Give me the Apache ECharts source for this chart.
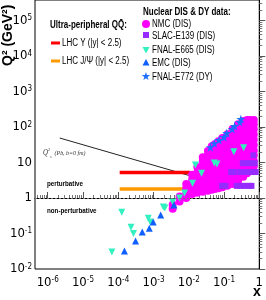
<!DOCTYPE html>
<html><head><meta charset="utf-8">
<script src="https://cdn.jsdelivr.net/npm/echarts@6/dist/echarts.min.js"></script>
<style>html,body{margin:0;padding:0;background:#fff}#c{width:266px;height:300px}</style>
</head><body><div id="c"></div>
<script>
// ---------- data (x, Q^2 in GeV^2) ----------
const xTickLog = [-6, -5, -4, -3, -2, -1, 0];
const yTickLog = [-2, -1, 0, 1, 2, 3, 4, 5];

const nmcX = [0.0035, 0.0055, 0.0085, 0.0125, 0.0175, 0.025, 0.035, 0.045, 0.055, 0.07, 0.09, 0.125, 0.175, 0.25, 0.35, 0.45, 0.55, 0.7];
const nmcQ2 = [
  [0.5, 0.65],
  [0.8, 1.1],
  [1.0, 1.4, 1.9, 2.5],
  [1.3, 1.8, 2.5, 3.4, 4.5],
  [1.4, 2.0, 2.8, 3.8, 5.2, 7.5],
  [1.5, 2.1, 3.0, 4.2, 5.8, 8.0, 11, 14],
  [1.6, 2.2, 3.1, 4.4, 6.1, 8.5, 12, 16, 21],
  [1.7, 2.4, 3.4, 4.8, 6.7, 9.4, 13, 18, 25, 29],
  [1.8, 2.6, 3.6, 5.0, 7.1, 10, 14, 19, 26, 33],
  [1.9, 2.7, 3.8, 5.3, 7.5, 10.5, 15, 21, 29, 40],
  [2.0, 2.8, 4.0, 5.6, 7.9, 11, 15.5, 22, 31, 40, 49],
  [2.2, 3.0, 4.2, 6.0, 8.5, 12, 17, 24, 33, 45, 63],
  [2.5, 3.5, 5, 7, 10, 14, 20, 28, 39, 55, 75, 88],
  [3, 4.2, 6, 8.5, 12, 17, 24, 34, 48, 67, 95, 120],
  [4, 5.6, 8, 11, 16, 22, 31, 44, 62, 87, 120, 148],
  [5, 7, 10, 14, 20, 28, 40, 56, 78, 110, 158],
  [6, 8.5, 12, 17, 24, 34, 48, 67, 95, 130, 158],
  [8, 11, 16, 22, 31, 44, 62, 87, 120, 158]
];

const slacX  = [0.34, 0.44, 0.57, 0.74, 0.68, 0.16, 0.19, 0.29, 0.38, 0.5, 0.64, 0.79, 0.088, 0.11, 0.23, 0.29, 0.38, 0.5, 0.6];
const slacQ2 = [9.6, 9.6, 9.6, 9.6, 16, 5.4, 5.4, 5.4, 5.4, 5.4, 5.4, 5.4, 2.2, 2.2, 2.2, 2.2, 2.2, 2.2, 2.2];

const e665X  = [6.6e-5, 1.26e-4, 2.3e-4, 2.7e-4, 7.1e-4, 8.1e-4, 1.9e-3, 2.1e-3, 3.5e-3, 5.5e-3, 7.6e-3, 0.0128, 0.0155, 0.023, 0.053, 0.063, 0.19, 0.36];
const e665Q2 = [0.030, 0.40, 0.15, 0.10, 0.27, 0.21, 0.56, 0.52, 0.77, 1.0, 1.38, 2.6, 8.5, 5.0, 9.7, 9.1, 20, 26];

const emcX  = [1.5e-4, 3.1e-4, 4.8e-4, 7.6e-4, 9.8e-4, 1.6e-3, 3.8e-3];
const emcQ2 = [0.032, 0.062, 0.11, 0.14, 0.21, 0.33, 0.64];

const e772X  = [0.041, 0.053, 0.072, 0.100, 0.12, 0.17, 0.20, 0.28, 0.30];
const e772Q2 = [27, 35, 43, 52, 68, 88, 107, 138, 168];

const upsX = [1.1e-4, 1.1e-2], upsQ2 = [5.2, 5.2];
const jpsiX = [1.1e-4, 1.1e-2], jpsiQ2 = [1.8, 1.8];
const qsX = [2.2e-6, 1.12e-2], qsQ2 = [49, 4.2];

// ---------- build ----------
const L = Math.log10;
const pts = (xs, qs) => xs.map((v, i) => [L(v), L(qs[i])]);
const nmcPts = [];
nmcX.forEach((x, i) => nmcQ2[i].forEach(q => nmcPts.push([L(x), L(q)])));

const XMIN = -6.36, XMAX = 0.0, YMIN = -2, YMAX = 5.58;
const minorOf = (lo, hi) => { const a = []; for (let k = Math.floor(lo) - 1; k <= Math.ceil(hi); k++) for (let d = 2; d <= 9; d++) { const v = k + L(d); if (v > lo && v < hi) a.push(v); } return a; };

const F = '"Liberation Sans Narrow","DejaVu Sans Condensed","Liberation Sans",Arial,sans-serif';
const fmt = v => { v = Math.round(v); if (v === 0) return '{b|1}'; if (v === 1) return '{b|10}'; return '{b|10}{s|' + v + '}'; };
const rich = { b: { fontSize: 13, fontFamily: F, color: '#000' }, s: { fontSize: 8, fontFamily: F, color: '#000', verticalAlign: 'top', lineHeight: 8 } };

const starPath = 'path://M50,0 L61,35 L98,35 L68,57 L79,91 L50,70 L21,91 L32,57 L2,35 L39,35 Z';
const C = { nmc: '#ff00ff', slac: '#962cff', e665: '#33f0c0', emc: '#0f5fff', e772: '#1f6fff', ups: '#ff0000', jpsi: '#ff9900' };

const txt = (x, y, text, opt) => Object.assign({ type: 'text', x: x, y: y, scaleX: opt.sx || 0.8,
  style: Object.assign({ text: text, fontSize: 10, fontFamily: '"Liberation Sans",Arial,sans-serif', fill: '#000', verticalAlign: 'middle', textAlign: 'left' }, opt.style || {}) });

const chart = echarts.init(document.getElementById('c'), null, { renderer: 'canvas' });
chart.setOption({
  animation: false,
  grid: { left: 35, right: 3, top: 0, bottom: 31, show: true, borderColor: '#000', borderWidth: 1 },
  xAxis: [
    { type: 'value', min: XMIN, max: XMAX, axisLine: { lineStyle: { color: '#000' } }, splitLine: { show: false },
      axisTick: { inside: true, length: 6, customValues: xTickLog, lineStyle: { color: '#555' } },
      axisLabel: { customValues: xTickLog, formatter: fmt, rich: rich, margin: 7 } },
    { type: 'value', min: XMIN, max: XMAX, position: 'bottom', axisLine: { show: false }, splitLine: { show: false },
      axisTick: { inside: true, length: 3, customValues: minorOf(XMIN, XMAX), lineStyle: { color: '#777' } }, axisLabel: { show: false } }
  ],
  yAxis: [
    { type: 'value', min: YMIN, max: YMAX, axisLine: { show: true, lineStyle: { color: '#000' } }, splitLine: { show: false },
      axisTick: { show: true, inside: true, length: 6, customValues: yTickLog, lineStyle: { color: '#555' } },
      axisLabel: { customValues: yTickLog, formatter: fmt, rich: rich, margin: 3 } },
    { type: 'value', min: YMIN, max: YMAX, position: 'left', axisLine: { show: false }, splitLine: { show: false },
      axisTick: { show: true, inside: true, length: 3, customValues: minorOf(YMIN, YMAX), lineStyle: { color: '#777' } }, axisLabel: { show: false } }
  ],
  series: [
    { type: 'line', data: pts(qsX, qsQ2), symbol: 'none', lineStyle: { color: '#222', width: 1 }, z: 1,
      markLine: { silent: true, symbol: 'none', label: { show: false }, data: [{ yAxis: 0 }], lineStyle: { type: [2, 2], color: '#777', width: 1 } } },
    { type: 'line', data: pts(upsX, upsQ2), symbol: 'none', lineStyle: { color: C.ups, width: 3.5 }, z: 1 },
    { type: 'line', data: pts(jpsiX, jpsiQ2), symbol: 'none', lineStyle: { color: C.jpsi, width: 3.5 }, z: 1 },
    { type: 'scatter', data: nmcPts, symbol: 'circle', symbolSize: 8, itemStyle: { color: C.nmc, opacity: 1 }, z: 2 },
    { type: 'scatter', data: pts(slacX, slacQ2), symbol: 'rect', symbolSize: 6, itemStyle: { color: C.slac, opacity: 1 }, z: 3 },
    { type: 'scatter', data: pts(e665X, e665Q2), symbol: 'triangle', symbolRotate: 180, symbolSize: 7, itemStyle: { color: C.e665, opacity: 1 }, z: 4 },
    { type: 'scatter', data: pts(emcX, emcQ2), symbol: 'triangle', symbolSize: 7, itemStyle: { color: C.emc, opacity: 1 }, z: 5 },
    { type: 'scatter', data: pts(e772X, e772Q2), symbol: starPath, symbolSize: 9, itemStyle: { color: C.e772, opacity: 1 }, z: 6 }
  ],
  graphic: [
    { type: 'text', x: 8, y: 66, rotation: Math.PI / 2, style: { text: 'Q² (GeV²)', fontSize: 14, fontWeight: 'bold', fontFamily: '"Liberation Sans",Arial,sans-serif', fill: '#000', verticalAlign: 'middle', textAlign: 'left' } },
    txt(253, 292, 'x', { sx: 1, style: { fontSize: 14, fontWeight: 'bold' } }),
    txt(50, 25, 'Ultra-peripheral QQ̄:', { style: { fontWeight: 'bold' } }),
    { type: 'line', shape: { x1: 51, y1: 43, x2: 60, y2: 43 }, style: { stroke: C.ups, lineWidth: 3 } },
    txt(62, 43, 'LHC Υ (|y| < 2.5)', {}),
    { type: 'line', shape: { x1: 51, y1: 61, x2: 60, y2: 61 }, style: { stroke: C.jpsi, lineWidth: 3 } },
    txt(62, 61, 'LHC J/Ψ (|y| < 2.5)', {}),
    txt(143, 12, 'Nuclear DIS & DY data:', { style: { fontWeight: 'bold' } }),
    { type: 'circle', shape: { cx: 146, cy: 24, r: 4 }, style: { fill: C.nmc } },
    txt(152, 24, 'NMC (DIS)', {}),
    { type: 'rect', shape: { x: 143, y: 32, width: 6, height: 6 }, style: { fill: C.slac } },
    txt(152, 36, 'SLAC-E139 (DIS)', {}),
    { type: 'polygon', shape: { points: [[142.5, 47], [149.5, 47], [146, 53.5]] }, style: { fill: C.e665 } },
    txt(152, 50, 'FNAL-E665 (DIS)', {}),
    { type: 'polygon', shape: { points: [[142.5, 65.5], [149.5, 65.5], [146, 59]] }, style: { fill: C.emc } },
    txt(152, 63, 'EMC (DIS)', {}),
    txt(141, 77, '★', { sx: 1, style: { fontSize: 11, fill: C.e772 } }),
    txt(152, 77, 'FNAL-E772 (DY)', {}),
    txt(47, 184, 'perturbative', { sx: 0.78, style: { fontSize: 8, fontWeight: 'bold' } }),
    txt(47, 211, 'non-perturbative', { sx: 0.78, style: { fontSize: 8, fontWeight: 'bold' } }),
    { type: 'text', x: 43, y: 153, scaleX: 0.85, style: { text: '{q|Q}{u|2}{d|s} {t|(Pb, b=0 fm)}', verticalAlign: 'middle', textAlign: 'left',
      rich: { q: { fontSize: 8, fontStyle: 'italic', fontFamily: '"Liberation Serif",serif', fill: '#333' },
              u: { fontSize: 5, fontStyle: 'italic', fontFamily: '"Liberation Serif",serif', fill: '#333', verticalAlign: 'top' },
              d: { fontSize: 5, fontStyle: 'italic', fontFamily: '"Liberation Serif",serif', fill: '#333', verticalAlign: 'bottom' },
              t: { fontSize: 7, fontStyle: 'italic', fontFamily: '"Liberation Serif",serif', fill: '#333' } } } }
  ]
});
</script></body></html>
